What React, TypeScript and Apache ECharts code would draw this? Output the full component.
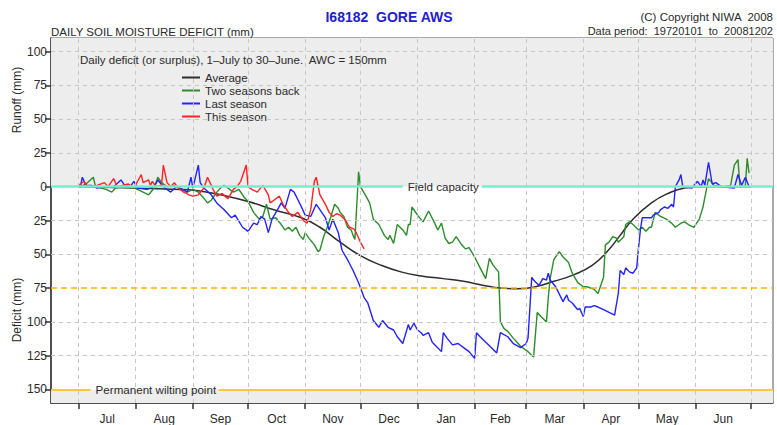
import React, { useEffect, useRef } from "react";
import * as echarts from "echarts";

// ---- Data (days since 1 July, mm; positive = runoff/surplus, negative = deficit) ----
const monthNames = ["Jul", "Aug", "Sep", "Oct", "Nov", "Dec", "Jan", "Feb", "Mar", "Apr", "May", "Jun"];
const monthStarts = [0, 31, 62, 92, 123, 153, 184, 215, 243, 274, 304, 335, 365];
const yTicks = [-150, -125, -100, -75, -50, -25, 0, 25, 50, 75, 100];

const fieldCapacity = 0;
const stressLine = -75;
const wiltingPoint = -150;

const averageData = [
  [0, 0], [31, -1], [55, -2], [65, -3], [77, -6], [92, -11], [106, -17], [121, -23], [131, -30],
  [141, -40], [153, -51], [164, -58], [175, -63], [186, -66], [198, -68], [209, -70], [220, -73],
  [229, -75], [238, -75.5], [248, -74], [258, -70], [269, -65], [279, -58], [287, -48], [294, -36],
  [301, -24], [311, -12], [320, -5], [329, -1], [338, 0], [365, 0],
];

const twoSeasonsBack = [
  [0, 0], [1, 0], [4, 2], [8, 7], [9, 1], [12, -1], [15, -2], [18, -4], [20, -1], [23, 0], [27, 0],
  [30, -1], [32, -2], [35, -4], [38, -6], [41, -1], [43, 7], [45, 3], [48, 0], [52, 1], [55, -1],
  [59, -4], [62, -2], [65, -4], [67, -7], [70, -12], [72, -10], [73, -8], [75, -4], [77, -1], [79, 1],
  [81, -1], [84, -4], [87, -2], [90, -8], [92, -11], [95, -19], [98, -24], [100, -22], [102, -13],
  [104, -24], [107, -23], [110, -28], [112, -32], [114, -30], [116, -33], [118, -30], [120, -36],
  [122, -39], [123, -34], [125, -38], [128, -43], [130, -48], [131, -47], [133, -37], [135, -30],
  [137, -22], [139, -13], [141, -16], [142, -19], [144, -22], [146, -30], [148, -32], [149, -36],
  [150, -39], [152, 11], [153, 0], [156, -7], [158, -12], [160, -24], [163, -28], [166, -36],
  [168, -39], [169, -36], [171, -42], [173, -28], [176, -32], [178, -36], [179, -28], [180, -28],
  [181, -15], [184, -21], [187, -26], [190, -18], [193, -26], [195, -32], [197, -27], [199, -38],
  [201, -42], [203, -41], [205, -37], [208, -43], [210, -46], [212, -45], [215, -52], [218, -60],
  [221, -68], [223, -53], [225, -58], [228, -63], [229, -100], [231, -105], [233, -107], [236, -112],
  [240, -118], [244, -122], [247, -126], [249, -93], [251, -96], [254, -100], [255, -82], [256, -68],
  [258, -54], [261, -48], [263, -52], [266, -56], [268, -64], [271, -71], [274, -74], [276, -74],
  [280, -76], [282, -79], [285, -67], [286, -43], [288, -41], [290, -37], [292, -38], [293, -41],
  [296, -37], [297, -28], [299, -26], [301, -28], [304, -32], [306, -30], [308, -33], [310, -30],
  [311, -30], [313, -19], [316, -22], [319, -24], [322, -27], [324, -30], [327, -27], [329, -26],
  [331, -28], [334, -30], [337, -24], [339, -15], [341, -1], [342, 6], [345, 1], [350, 0], [354, 1],
  [356, 16], [358, 20], [359, 1], [361, 0], [362, 1], [363, 21], [364, 10],
];

const lastSeason = [
  [0, 0], [1, 0], [2, 7], [4, 1], [7, 1], [10, -1], [14, 0], [19, 0], [23, 5], [25, 1], [28, 0],
  [30, 4], [32, -1], [37, -2], [41, 0], [43, 5], [46, 0], [50, -4], [53, 0], [55, -1], [59, -4],
  [61, 7], [62, -1], [65, 16], [66, 3], [68, -1], [72, -6], [75, -12], [79, -17], [83, -23],
  [85, -21], [89, -30], [92, -33], [95, -27], [97, -28], [99, -22], [101, -24], [103, -34],
  [105, -24], [108, -17], [110, -12], [112, -16], [115, -2], [117, -4], [121, -15], [123, -21],
  [126, -22], [129, -13], [131, -17], [134, -23], [136, -32], [138, -24], [141, -34], [143, -47],
  [146, -54], [149, -62], [152, -71], [155, -82], [157, -86], [160, -99], [163, -104], [165, -99],
  [168, -104], [171, -106], [173, -111], [176, -116], [179, -102], [180, -106], [182, -101],
  [184, -106], [186, -108], [187, -110], [190, -108], [192, -115], [197, -122], [198, -108],
  [200, -112], [203, -117], [206, -116], [209, -119], [212, -122], [215, -127], [216, -108],
  [218, -111], [224, -119], [227, -123], [229, -108], [233, -111], [236, -116], [240, -119],
  [243, -116], [244, -112], [246, -67], [247, -69], [250, -73], [252, -68], [254, -69], [255, -64],
  [256, -69], [259, -74], [263, -85], [265, -80], [266, -84], [268, -86], [271, -91], [272, -90],
  [274, -96], [275, -89], [278, -89], [280, -88], [282, -89], [285, -91], [288, -93], [291, -95],
  [293, -79], [294, -62], [296, -65], [297, -60], [299, -63], [301, -64], [303, -60], [304, -45],
  [305, -32], [306, -23], [308, -23], [311, -23], [312, -21], [315, -19], [316, -17], [318, -15],
  [320, -16], [322, -13], [323, -15], [324, 0], [326, 5], [327, 9], [328, 0], [333, -1], [336, 4],
  [338, 0], [339, 5], [340, 1], [342, 18], [344, 2], [346, 3], [349, 0], [356, -1], [358, 9],
  [360, 1], [362, 7], [364, 0],
];

const thisSeason = [
  [0, 0], [1, 2], [3, 4], [4, 1], [7, 0], [10, 1], [14, 3], [16, 0], [19, 6], [21, 0], [27, 2],
  [30, -1], [34, 9], [35, 3], [38, 5], [39, 1], [40, 4], [42, 0], [45, 1], [46, 16], [48, 3],
  [50, 0], [52, 3], [54, -1], [57, -4], [60, -6], [62, -7], [65, -6], [68, -1], [70, 7], [73, -2],
  [75, -7], [78, -5], [81, -9], [84, -2], [86, 0], [88, 4], [91, 16], [92, 0], [94, -2], [97, -4],
  [100, 1], [103, -6], [104, -12], [106, -10], [109, -7], [111, -13], [114, -19], [116, -22],
  [119, -19], [122, -25], [124, -27], [126, -17], [128, 4], [129, 7], [131, -6], [134, -13],
  [136, -19], [138, -22], [140, -20], [142, -21], [145, -25], [147, -30], [149, -31], [150, -32],
  [152, -38], [153, -41], [155, -46],
];

// ---- Layout constants ----
const X_MIN = -15;
const X_MAX = 377;
const Y_MIN = -160;
const Y_MAX = 110;
const FONT = '"Liberation Sans", Arial, Helvetica, sans-serif';
const TEXT = "#2a2a2a";

const monthMids = monthNames.map((_, i) => (monthStarts[i] + monthStarts[i + 1]) / 2);

function buildOption() {
  const gridStyle = { color: "#c6c6c6", width: 1, type: [4, 4] as number[] };
  const gridLines: any[] = [];
  monthStarts.forEach((d) => gridLines.push({ xAxis: d, lineStyle: gridStyle, label: { show: false } }));
  yTicks
    .filter((v) => v !== fieldCapacity && v !== wiltingPoint && v !== stressLine)
    .forEach((v) => gridLines.push({ yAxis: v, lineStyle: gridStyle, label: { show: false } }));

  const fcStyle = { color: "#72f0cc", width: 2.5, type: "solid" };
  const wpStyle = { color: "#ffc83a", width: 2, type: "solid" };
  const labelBase = { color: TEXT, fontSize: 11.6, fontFamily: FONT, distance: 5 };

  const specialLines: any[] = [
    { yAxis: stressLine, lineStyle: { color: "#ffb000", width: 1.5, type: [6, 4] }, label: { show: false } },
    [
      { coord: [X_MIN, fieldCapacity], lineStyle: fcStyle, label: { show: true, position: "end", formatter: "Field capacity", ...labelBase } },
      { coord: [176, fieldCapacity] },
    ],
    [
      { coord: [219, fieldCapacity], lineStyle: fcStyle, label: { show: false } },
      { coord: [X_MAX, fieldCapacity] },
    ],
    [
      { coord: [X_MIN, wiltingPoint], lineStyle: wpStyle, label: { show: true, position: "end", formatter: "Permanent wilting point", ...labelBase } },
      { coord: [6.5, wiltingPoint] },
    ],
    [
      { coord: [76, wiltingPoint], lineStyle: wpStyle, label: { show: false } },
      { coord: [X_MAX, wiltingPoint] },
    ],
  ];

  const lineSeries = (name: string, data: number[][], color: string, extra: any = {}) => ({
    name,
    type: "line",
    data,
    showSymbol: false,
    symbol: "none",
    z: 3,
    lineStyle: { color, width: 1.4 },
    itemStyle: { color },
    ...extra,
  });

  const txt = (x: number, y: number, text: string, style: any, extra: any = {}) => ({
    type: "text",
    x,
    y,
    z: 100,
    zlevel: 0,
    silent: true,
    style: { text, verticalAlign: "middle", fill: TEXT, fontFamily: FONT, ...style },
    ...extra,
  });

  return {
    animation: false,
    backgroundColor: "#ffffff",
    textStyle: { fontFamily: FONT },
    grid: {
      left: 51,
      top: 38,
      width: 722,
      height: 365,
      show: true,
      borderColor: "#555",
      borderWidth: 1,
      backgroundColor: "transparent",
    },
    xAxis: {
      type: "value",
      min: X_MIN,
      max: X_MAX,
      axisLine: { show: true, onZero: false, lineStyle: { color: "#333", width: 1.5 } },
      axisTick: { show: true, customValues: monthStarts, length: 6, lineStyle: { color: "#333", width: 1.5 } },
      axisLabel: {
        customValues: monthMids,
        formatter: (v: number) => {
          const i = monthMids.findIndex((m) => Math.abs(m - v) < 0.01);
          return i >= 0 ? monthNames[i] : "";
        },
        fontSize: 12,
        color: TEXT,
        margin: 10,
        fontFamily: FONT,
      },
      splitLine: { show: false },
    },
    yAxis: {
      type: "value",
      min: Y_MIN,
      max: Y_MAX,
      axisLine: { show: true, onZero: false, lineStyle: { color: "#333", width: 1.5 } },
      axisTick: { show: true, customValues: yTicks, length: 6, lineStyle: { color: "#333", width: 1.5 } },
      axisLabel: {
        customValues: yTicks,
        formatter: (v: number) => String(Math.abs(v)),
        fontSize: 12,
        color: TEXT,
        margin: 4,
        fontFamily: FONT,
      },
      splitLine: { show: false },
    },
    legend: {
      data: ["Average", "Two seasons back", "Last season", "This season"],
      orient: "vertical",
      left: 177,
      top: 66,
      icon: "rect",
      itemWidth: 18,
      itemHeight: 2,
      itemGap: 0,
      textStyle: { fontSize: 11.5, color: TEXT, fontFamily: FONT, lineHeight: 13 },
      selectedMode: false,
    },
    graphic: [
      txt(389, 17, "I68182  GORE AWS", { align: "center", fill: "#1e22c8", fontSize: 14, fontWeight: "bold" }),
      txt(51, 32, "DAILY SOIL MOISTURE DEFICIT (mm)", { align: "left", fontSize: 11.5 }),
      txt(773, 17, "(C) Copyright NIWA  2008", { align: "right", fontSize: 11.5 }),
      txt(773, 31, "Data period:  19720101  to  20081202", { align: "right", fontSize: 11 }),
      txt(80, 60, "Daily deficit (or surplus), 1\u2013July to 30\u2013June.  AWC = 150mm", { align: "left", fontSize: 11.5 }),
      txt(17, 100, "Runoff (mm)", { align: "center", fontSize: 12 }, { rotation: Math.PI / 2 }),
      txt(17, 310, "Deficit (mm)", { align: "center", fontSize: 12 }, { rotation: Math.PI / 2 }),
    ],
    series: [
      {
        name: "bg",
        type: "line",
        data: [[0, 0]],
        symbol: "none",
        showSymbol: false,
        silent: true,
        z: 1,
        lineStyle: { opacity: 0 },
        markArea: {
          silent: true,
          itemStyle: { color: "#ededed" },
          data: [
            [{ coord: [X_MIN, fieldCapacity] }, { coord: [X_MAX, Y_MAX] }],
            [{ coord: [X_MIN, Y_MIN] }, { coord: [X_MAX, wiltingPoint] }],
          ],
        },
        markLine: {
          silent: true,
          symbol: "none",
          animation: false,
          data: [...gridLines, ...specialLines],
        },
      },
      lineSeries("Average", averageData, "#2d2d2d", { smooth: 0.5, lineStyle: { color: "#2d2d2d", width: 1.5 } }),
      lineSeries("Two seasons back", twoSeasonsBack, "#2b8c2b"),
      lineSeries("Last season", lastSeason, "#2222ff"),
      lineSeries("This season", thisSeason, "#ff2222"),
    ],
  };
}

export default function App() {
  const ref = useRef<HTMLDivElement>(null);
  useEffect(() => {
    if (!ref.current) return;
    const chart = echarts.init(ref.current, undefined, { renderer: "svg" });
    chart.setOption(buildOption() as any);
    return () => chart.dispose();
  }, []);
  return (
    <div
      ref={ref}
      style={{ position: "fixed", left: 0, top: 0, width: 777, height: 425, background: "#fff" }}
    />
  );
}
